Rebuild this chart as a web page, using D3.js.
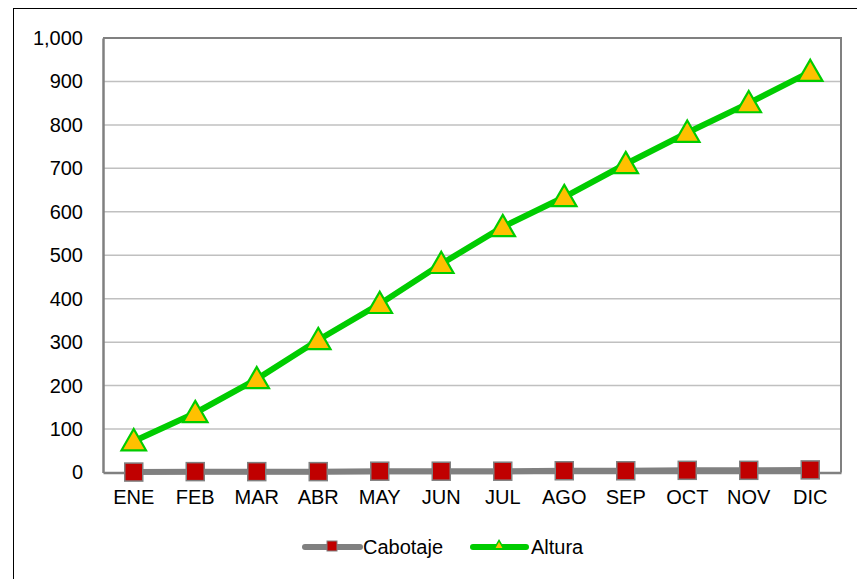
<!DOCTYPE html>
<html><head><meta charset="utf-8">
<script src="https://cdn.jsdelivr.net/npm/d3@7"></script>
<style>body{margin:0;background:#fff}svg{display:block}text{font-family:"Liberation Sans",Arial,sans-serif}</style>
</head><body><svg id="c" width="857" height="579"></svg>
<script>
const categories=["ENE","FEB","MAR","ABR","MAY","JUN","JUL","AGO","SEP","OCT","NOV","DIC"];
const cabotaje=[1,2,2,2,3,3,3,4,4,5,5,6];
const altura=[72,137,215,305,388,480,565,634,710,782,850,922];
const yTicks=[0,100,200,300,400,500,600,700,800,900,1000];
const seriesNames=["Cabotaje","Altura"];

const svg=d3.select("#c");
const L=103,R=841,T=38,B=472.5;
svg.append("rect").attr("x",13.5).attr("y",8.5).attr("width",900).attr("height",700).attr("fill","#fff").attr("stroke","#000").attr("stroke-width",1);
const x=d3.scaleBand().domain(categories).range([L,R]);
const y=d3.scaleLinear().domain([0,1000]).range([B,T]);
const fmt=d3.format(",");
svg.append("g").selectAll("line").data(yTicks.filter(d=>d>0&&d<1000)).join("line")
 .attr("x1",L).attr("x2",R).attr("y1",d=>y(d)).attr("y2",d=>y(d)).attr("stroke","#c0c0c0").attr("stroke-width",1.5);
svg.append("path").attr("d",`M${L},${T}H${R}V${B}`).attr("fill","none").attr("stroke","#808080").attr("stroke-width",2);
const ya=svg.append("g").attr("transform",`translate(${L},0)`).call(d3.axisLeft(y).tickValues(yTicks).tickFormat(fmt).tickSize(0).tickPadding(20));
ya.select(".domain").attr("stroke","#808080").attr("stroke-width",2.5);
ya.selectAll("text").attr("font-size",20).attr("fill","#000").attr("font-family","Liberation Sans, Arial, sans-serif");
const xa=svg.append("g").attr("transform",`translate(0,${B})`).call(d3.axisBottom(x).tickSize(0).tickPadding(17));
xa.select(".domain").attr("stroke","#808080").attr("stroke-width",2.5);
xa.selectAll("text").attr("font-size",20).attr("fill","#000").attr("font-family","Liberation Sans, Arial, sans-serif");

const cx=d=>x(d)+x.bandwidth()/2;
const line=d3.line().x((d,i)=>cx(categories[i])).y(d=>y(d));
svg.append("path").datum(cabotaje).attr("d",line).attr("fill","none").attr("stroke","#808080").attr("stroke-width",6);
svg.append("g").selectAll("rect").data(cabotaje).join("rect")
 .attr("x",(d,i)=>cx(categories[i])-9).attr("y",d=>y(d)-9).attr("width",18).attr("height",18)
 .attr("fill","#c00000").attr("stroke","#808080").attr("stroke-width",1.5);
svg.append("path").datum(altura).attr("d",line).attr("fill","none").attr("stroke","#00cc00").attr("stroke-width",6);
const tri=d3.symbol().type(d3.symbolTriangle).size(260);
svg.append("g").selectAll("path").data(altura).join("path")
 .attr("d",tri).attr("transform",(d,i)=>`translate(${cx(categories[i])},${y(d)+2})`)
 .attr("fill","#ffc000").attr("stroke","#00cc00").attr("stroke-width",2.2);

const lg=svg.append("g");
lg.append("line").attr("x1",305).attr("x2",360).attr("y1",547).attr("y2",547).attr("stroke","#808080").attr("stroke-width",6).attr("stroke-linecap","round");
lg.append("rect").attr("x",327).attr("y",541).attr("width",10).attr("height",10).attr("fill","#c00000").attr("stroke","#808080").attr("stroke-width",1);
lg.append("text").attr("x",363).attr("y",554).attr("font-size",20).text(seriesNames[0]);
lg.append("line").attr("x1",473).attr("x2",526).attr("y1",547).attr("y2",547).attr("stroke","#00cc00").attr("stroke-width",6).attr("stroke-linecap","round");
lg.append("path").attr("d",d3.symbol().type(d3.symbolTriangle).size(40)).attr("transform","translate(499,546)").attr("fill","#ffc000").attr("stroke","#00cc00").attr("stroke-width",1.5);
lg.append("text").attr("x",531).attr("y",554).attr("font-size",20).text(seriesNames[1]);
</script></body></html>
